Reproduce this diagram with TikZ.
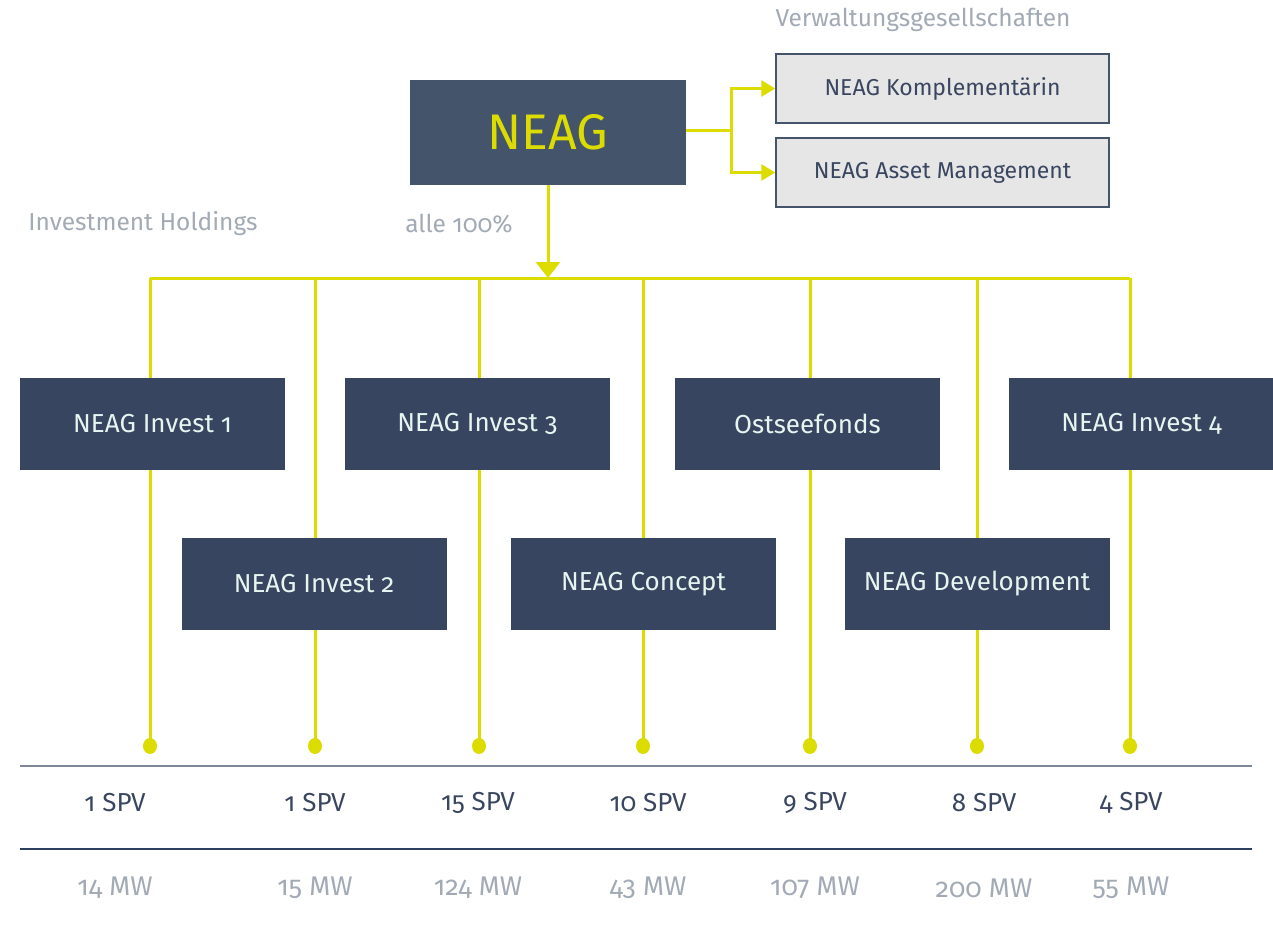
\documentclass[tikz,border=0pt]{standalone}
\usepackage{fontspec}
\setmainfont{Fira Sans}[Numbers=OldStyle]
\usepackage{tikz}
\usetikzlibrary{arrows.meta}

\definecolor{neagyellow}{HTML}{DCDC00}
\definecolor{neagbox}{HTML}{44546A}
\definecolor{holdbox}{HTML}{374560}
\definecolor{holdtext}{HTML}{E6F5F0}
\definecolor{labelgrey}{HTML}{A2AAB6}
\definecolor{spvtext}{HTML}{3A4660}
\definecolor{verwfill}{HTML}{E6E6E6}
\definecolor{lineone}{HTML}{7F8898}
\definecolor{linetwo}{HTML}{2F3F62}

\tikzset{
    link/.style={draw=neagyellow, line width=3pt},
    holding/.style={fill=holdbox, text=holdtext, minimum width=265pt, minimum height=92pt,
        inner sep=0pt, font=\fontsize{26}{29}\selectfont},
    verw/.style={fill=verwfill, draw=neagbox, line width=1.5pt, text=spvtext,
        minimum width=333pt, minimum height=69pt, inner sep=0pt, font=\fontsize{23}{26}\selectfont},
    caption/.style={text=labelgrey, font=\fontsize{24.5}{27}\selectfont},
    spv/.style={text=spvtext, font=\fontsize{26}{29}\selectfont},
    mw/.style={text=labelgrey, font=\fontsize{27}{30}\selectfont}
}

\begin{document}
\begin{tikzpicture}[x=1pt, y=-1pt]

        \useasboundingbox (0,0) rectangle (1273,929);

        % Top company and management companies
        \node[fill=neagbox, text=neagyellow, minimum width=276pt, minimum height=105pt,
              inner sep=0pt, font=\fontsize{50}{54}\selectfont] (neag) at (548,132.5) {NEAG};
        \node[verw] (kompl) at (942.5,88.5) {NEAG Komplementärin};
        \node[verw] (asset) at (942.5,172.5) {NEAG Asset Management};
        \node[caption] (verwlabel) at (923,20) {Verwaltungsgesellschaften};
        \coordinate (split) at (731,130);
        \draw[link] (neag.east |- split) -- (split);
        \draw[link, -{Triangle[width=16pt,length=14pt]}] (split) |- (kompl.west);
        \draw[link, -{Triangle[width=16pt,length=14pt]}] (split) |- (asset.west);

        % Captions
        \node[caption] (holdlabel) at (143,224) {Investment Holdings};
        \node[caption] (alle) at (459,224) {alle 100\%};

        % Bus and arrow
        \coordinate (bus) at (548,278);
        \draw[link, -{Triangle[width=24pt,length=16pt]}] (neag.south) -- (bus);

        % Columns: dots, vertical links, SPV and MW labels
        \foreach \n/\x/\spvx/\spvtxt/\mwtxt in {1/150/115/1 SPV/14 MW, 2/315/315/1 SPV/15 MW,
            3/479/478/15 SPV/124 MW, 4/643/648/10 SPV/43 MW, 5/810/815/9 SPV/107 MW,
            6/977/984/8 SPV/200 MW, 7/1130/1131/4 SPV/55 MW}{
            \coordinate (d\n) at (\x,746);
            \draw[link] (bus -| d\n) -- (d\n);
            \fill[neagyellow] (d\n) ellipse (7pt and 8pt);
            \node[spv] (spv\n) at (\spvx,803) {\spvtxt};
            \node[mw] (mw\n) at (\spvx,888) {\mwtxt};
        }
        \draw[link] (d1 |- bus) -- (d7 |- bus);

        % Holdings
        \node[holding] (inv1) at (152.5,424) {NEAG Invest 1};
        \node[holding] (inv3) at (477.5,424) {NEAG Invest 3};
        \node[holding] (ostsee) at (807.5,424) {Ostseefonds};
        \node[holding] (inv4) at (1141.5,424) {NEAG Invest 4};
        \node[holding] (inv2) at (314,584) {NEAG Invest 2};
        \node[holding] (concept) at (643.5,584) {NEAG Concept};
        \node[holding] (devel) at (977,584) {NEAG Development};

        % Table lines
        \coordinate (tl1) at (20,766);
        \coordinate (tr1) at (1252,766);
        \coordinate (tl2) at (20,849);
        \coordinate (tr2) at (1252,849);
        \draw[lineone, line width=1.5pt] (tl1) -- (tr1);
        \draw[linetwo, line width=1.2pt] (tl2) -- (tr2);

\end{tikzpicture}
\end{document}
